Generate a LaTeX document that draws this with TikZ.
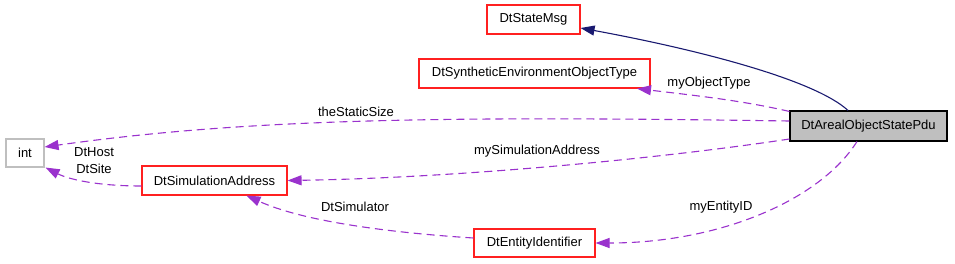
\documentclass[tikz,border=0pt]{standalone}
\usepackage{fontspec}
\setmainfont{Liberation Sans}
\usetikzlibrary{arrows.meta}
\definecolor{edgepurple}{HTML}{9A32CD}
\definecolor{edgenavy}{HTML}{191970}
\definecolor{boxred}{HTML}{FF2020}
\definecolor{boxgray}{HTML}{BFBFBF}
\tikzset{
  cls/.style={draw=boxred, line width=1.1pt, fill=white, inner sep=0pt, font=\fontsize{13}{15}\selectfont},
  usage/.style={draw=edgepurple, line width=1.1pt, dash pattern=on 8pt off 5pt, -{Triangle[length=14pt,width=10pt,fill=edgepurple]}},
  inherit/.style={draw=edgenavy, line width=1.1pt, -{Triangle[length=14pt,width=10pt,fill=edgenavy]}},
  lbl/.style={inner sep=0pt, font=\fontsize{13}{17}\selectfont, align=center}
}
\begin{document}
\begin{tikzpicture}[x=1pt,y=-1pt]
\useasboundingbox (0,0) rectangle (955,263);
% nodes
\node[cls, minimum width=157pt, minimum height=30pt, draw=black, fill=boxgray] (areal) at (868.5,126) {DtArealObjectStatePdu};
\node[cls, minimum width=93pt, minimum height=29pt] (state) at (533.5,19.5) {DtStateMsg};
\node[cls, minimum width=231pt, minimum height=29pt] (synth) at (534.5,73.5) {DtSyntheticEnvironmentObjectType};
\node[cls, minimum width=38pt, minimum height=28pt, draw=boxgray] (int) at (25,153) {int};
\node[cls, minimum width=145pt, minimum height=29pt] (simaddr) at (214.5,180.5) {DtSimulationAddress};
\node[cls, minimum width=121pt, minimum height=28pt] (entity) at (534.5,243) {DtEntityIdentifier};
% labels
\node[lbl] (l1) at (709,83) {myObjectType};
\node[lbl] (l2) at (356,112) {theStaticSize};
\node[lbl] (l3) at (537,151) {mySimulationAddress};
\node[lbl] (l4) at (721,207) {myEntityID};
\node[lbl] (l5) at (355,207) {DtSimulator};
\node[lbl] (l6) at (94,160.5) {DtHost\\DtSite};
% edges
\draw[inherit] ([xshift=-20.5pt]areal.north) .. controls (815,80) and (700,50) .. ([yshift=-8.5pt]state.east);
\draw[usage] ([yshift=-1pt]areal.north west) .. controls (740,100) and (690,95) .. ([xshift=102.5pt]synth.south);
\draw[usage] ([yshift=5pt]areal.west) .. controls (450,116) and (250,118) .. ([yshift=6pt]int.east);
\draw[usage] ([yshift=-13pt]areal.west) .. controls (650,160) and (450,178) .. (simaddr.east);
\draw[usage] ([xshift=-11.5pt]areal.south) .. controls (820,200) and (720,243) .. (entity.east);
\draw[usage] ([yshift=-5.5pt]simaddr.west) .. controls (100,186) and (70,180) .. ([xshift=1pt]int.south east);
\draw[usage] ([yshift=5pt]entity.west) .. controls (380,232) and (300,220) .. ([xshift=32pt]simaddr.south);
\end{tikzpicture}
\end{document}
